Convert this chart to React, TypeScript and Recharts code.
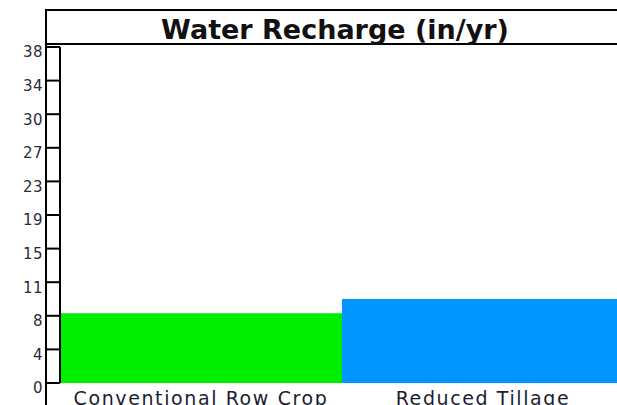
import { BarChart, Bar, XAxis, YAxis, Cell } from "recharts";

const practices = ["Conventional Row Crop", "Reduced Tillage"];
const recharge = [7.9, 9.5];
const barColors = ["#00ee00", "#0096ff"];
const yTicks = [0, 3.8, 7.6, 11.4, 15.2, 19, 22.8, 26.6, 30.4, 34.2, 38];

const data = practices.map((name, i) => ({ name, recharge: recharge[i] }));

const font = "Verdana, 'DejaVu Sans', sans-serif";

export default function App() {
  return (
    <div
      style={{
        position: "fixed",
        left: 0,
        top: 0,
        width: 617,
        height: 405,
        overflow: "hidden",
        background: "#fff",
      }}
    >
      <BarChart
        width={640}
        height={420}
        data={data}
        margin={{ top: 47, right: 16, bottom: 0, left: 0 }}
        barCategoryGap={0}
      >
        <YAxis
          width={60}
          domain={[0, 38]}
          ticks={yTicks}
          interval={0}
          tickFormatter={(v) => `${Math.round(v)}`}
          tickSize={14}
          tickMargin={3}
          stroke="#000"
          strokeWidth={2}
          tick={{ fill: "#2b2b3a", fontSize: 15, fontFamily: font, dy: 5, letterSpacing: 0.5 }}
        />
        <XAxis
          dataKey="name"
          height={37}
          axisLine={false}
          tickLine={false}
          tickMargin={3}
          tick={{ fill: "#1c1c30", fontSize: 19, fontFamily: font, letterSpacing: 1.6 }}
        />
        <Bar dataKey="recharge" isAnimationActive={false}>
          {data.map((d, i) => (
            <Cell key={d.name} fill={barColors[i]} />
          ))}
        </Bar>
      </BarChart>
      <div
        style={{
          position: "absolute",
          left: 45,
          top: 9,
          width: 2,
          height: 400,
          background: "#000",
        }}
      />
      <div
        style={{
          position: "absolute",
          left: 45,
          top: 9,
          width: 580,
          height: 32,
          borderTop: "2px solid #000",
          borderBottom: "2px solid #000",
          textAlign: "center",
          lineHeight: "37px",
          fontFamily: font,
          fontWeight: "bold",
          fontSize: 27,
          color: "#111",
        }}
      >
        Water Recharge (in/yr)
      </div>
    </div>
  );
}
